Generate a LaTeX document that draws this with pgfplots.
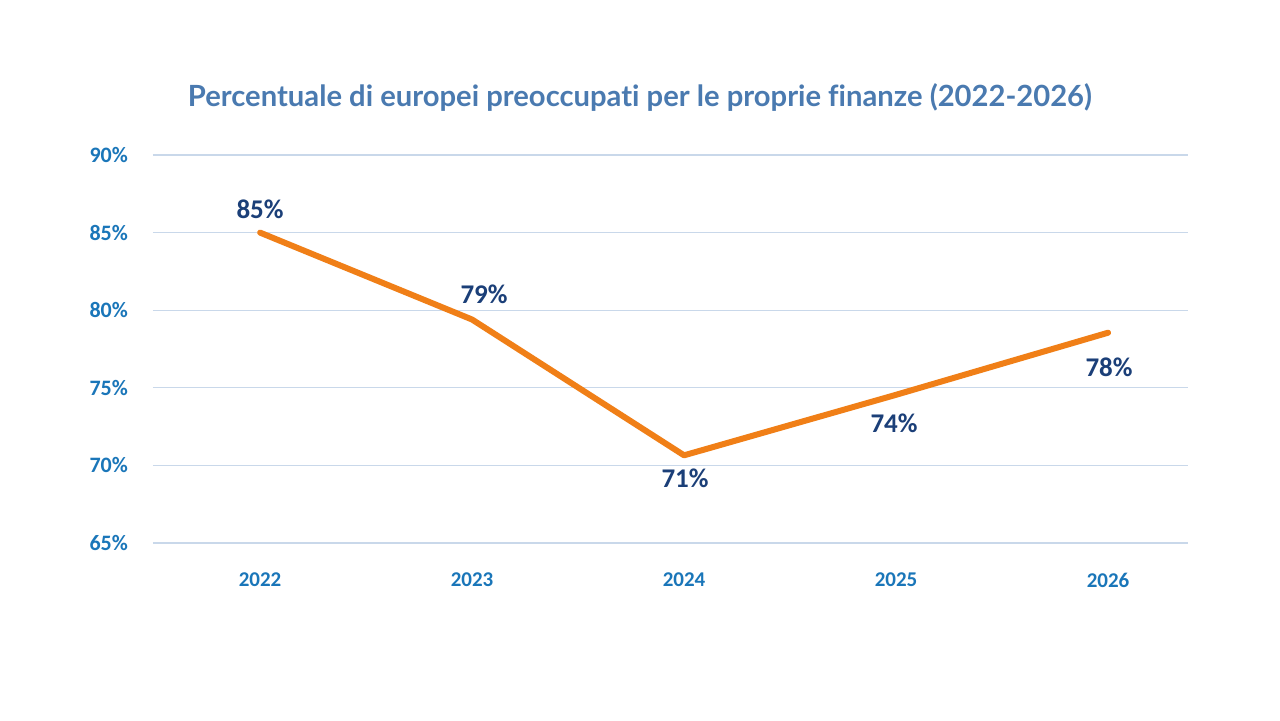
\documentclass[border=0pt]{standalone}
\usepackage{fontspec}
\setmainfont{Carlito}
\newfontfamily\titlefont[Ligatures=NoCommon]{Lato}
\usepackage{pgfplots}
\pgfplotsset{compat=1.18}
\definecolor{titleblue}{HTML}{4A7AB0}
\definecolor{tickblue}{HTML}{1A76B9}
\definecolor{navy}{HTML}{1B3F78}
\definecolor{gridc}{HTML}{C9D8EA}
\definecolor{lineorange}{HTML}{F07F17}
\begin{document}
\begin{tikzpicture}
\useasboundingbox[fill=white] (0,0) rectangle (640pt,360pt);
\node[font=\titlefont\bfseries\fontsize{14.6pt}{17pt}\selectfont, text=titleblue] at (320pt,311.5pt) {Percentuale di europei preoccupati per le proprie finanze (2022-2026)};
\begin{axis}[
  at={(76.5pt,88.5pt)}, anchor=south west,
  width=517.5pt, height=194pt, scale only axis,
  xmin=2021.495, xmax=2026.377,
  ymin=65, ymax=90,
  xtick={2022,2023,2024,2025,2026},
  xticklabels={2022,2023,2024,2025,2026},
  ytick={65,70,75,80,85,90},
  yticklabels={65\%,70\%,75\%,80\%,85\%,90\%},
  axis line style={draw=none},
  major tick length=0pt,
  ymajorgrids, grid style={gridc, line width=0.6pt},
  tick label style={font=\bfseries\fontsize{10.5pt}{12pt}\selectfont, text=tickblue},
  yticklabel style={anchor=east, xshift=-9pt, font=\bfseries\fontsize{11pt}{12pt}\selectfont},
  xticklabel style={anchor=center, yshift=-18.5pt},
  clip=false,
]
\addplot[lineorange, line width=3pt, line cap=round, line join=round] coordinates {
 (2022,85.0) (2023,79.4) (2024,70.65) (2025,74.55) (2026,78.55)
};
\begin{scope}[every node/.style={font=\bfseries\fontsize{13.5pt}{15pt}\selectfont, text=navy}]
\node at (axis cs:2022,85.0) [yshift=11.5pt] {85\%};
\node at (axis cs:2023,79.4) [yshift=12.5pt, xshift=6pt] {79\%};
\node at (axis cs:2024,70.65) [yshift=-11.5pt, xshift=0.5pt] {71\%};
\node at (axis cs:2025,74.55) [yshift=-14.5pt, xshift=-1pt] {74\%};
\node at (axis cs:2026,78.55) [yshift=-17.5pt, xshift=0.5pt] {78\%};
\end{scope}
\end{axis}
\end{tikzpicture}
\end{document}
